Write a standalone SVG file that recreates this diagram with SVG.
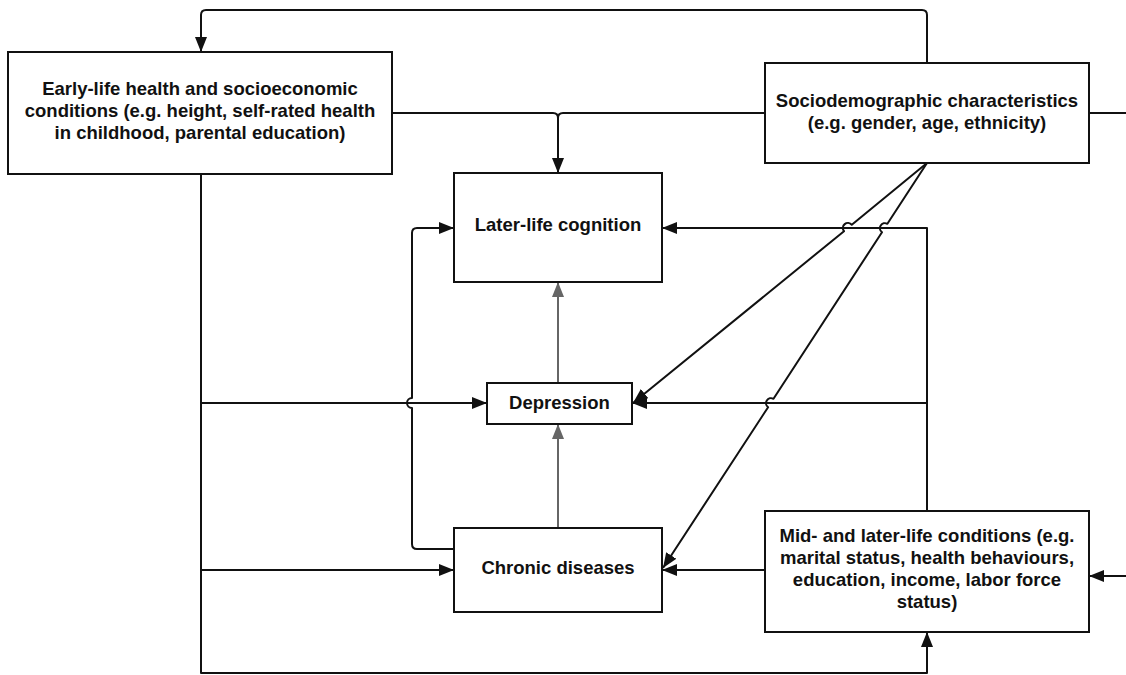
<svg xmlns="http://www.w3.org/2000/svg" width="1126" height="675" viewBox="0 0 1126 675">
<style>
.box{fill:#fff;stroke:#111;stroke-width:2}
.t{font-family:"Liberation Sans",Arial,sans-serif;font-weight:bold;font-size:18.5px;fill:#111;text-anchor:middle}
.c{fill:none;stroke:#111;stroke-width:2;stroke-linejoin:round}
.g{fill:none;stroke:#666;stroke-width:2}
</style>
<defs>
<marker id="ah" markerUnits="userSpaceOnUse" markerWidth="16" markerHeight="13" refX="15" refY="6" orient="auto"><path d="M0,0 L15,6 L0,12 z" fill="#111"/></marker>
<marker id="ahg" markerUnits="userSpaceOnUse" markerWidth="16" markerHeight="13" refX="15" refY="6" orient="auto"><path d="M0,0 L15,6 L0,12 z" fill="#666"/></marker>
</defs>
<rect width="1126" height="675" fill="#fff"/>
<g id="connectors">
<path class="c" d="M927,63 V15 Q927,10 922,10 H206 Q201,10 201,15 V52" marker-end="url(#ah)"/>
<path class="c" d="M392,113 H553 Q558,113 558,118 V173" marker-end="url(#ah)"/>
<path class="c" d="M765,113 H563 Q558,113 558,118"/>
<path class="c" d="M1089,113 H1126"/>
<path class="c" d="M201,174 V673 H927 V632" marker-end="url(#ah)"/>
<path class="c" d="M201,403 H487" marker-end="url(#ah)"/>
<path class="c" d="M201,570 H454" marker-end="url(#ah)"/>
<path class="c" d="M454,549 H417 Q412,549 412,544 V408 A5,5 0 0 1 412,398 V233 Q412,228 417,228 H454" marker-end="url(#ah)"/>
<path class="c" d="M927,511 V228 H662" marker-end="url(#ah)"/>
<path class="c" d="M927,403 H632" marker-end="url(#ah)"/>
<path class="c" d="M765,570 H662" marker-end="url(#ah)"/>
<path class="c" d="M1126,576 H1089" marker-end="url(#ah)"/>
<path class="c" d="M927,163 L851.8,224.8 A5,5 0 0 0 844.0,231.2 L633,403" marker-end="url(#ah)"/>
<path class="c" d="M927,163 L887.4,223.8 A5,5 0 0 0 882.0,232.2 L773.5,398.8 A5,5 0 0 0 768.1,407.2 L663,568" marker-end="url(#ah)"/>
<path class="g" d="M558,383 V282" marker-end="url(#ahg)"/>
<path class="g" d="M558,528 V424" marker-end="url(#ahg)"/>
</g>
<g id="early-life">
<rect class="box" x="8" y="52" width="384" height="122"/>
<text class="t" x="200" y="94.5">Early-life health and socioeconomic</text>
<text class="t" x="200" y="116.5">conditions (e.g. height, self-rated health</text>
<text class="t" x="200" y="138.5">in childhood, parental education)</text>
</g>
<g id="sociodemographic">
<rect class="box" x="765" y="63" width="324" height="100"/>
<text class="t" x="927" y="106.5">Sociodemographic characteristics</text>
<text class="t" x="927" y="128.5">(e.g. gender, age, ethnicity)</text>
</g>
<g id="later-life-cognition">
<rect class="box" x="454" y="173" width="208" height="109"/>
<text class="t" x="558" y="230.5">Later-life cognition</text>
</g>
<g id="depression">
<rect class="box" x="487" y="383" width="145" height="41"/>
<text class="t" x="559.5" y="408.5">Depression</text>
</g>
<g id="chronic-diseases">
<rect class="box" x="454" y="528" width="208" height="84"/>
<text class="t" x="558" y="574">Chronic diseases</text>
</g>
<g id="mid-later-life">
<rect class="box" x="765" y="511" width="324" height="121"/>
<text class="t" x="927" y="541.5">Mid- and later-life conditions (e.g.</text>
<text class="t" x="927" y="563.5">marital status, health behaviours,</text>
<text class="t" x="927" y="585.5">education, income, labor force</text>
<text class="t" x="927" y="608">status)</text>
</g>
</svg>
